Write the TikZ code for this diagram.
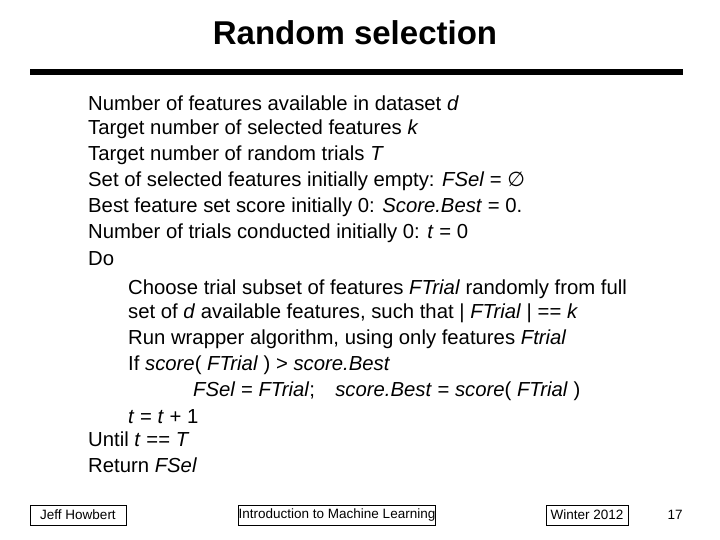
\documentclass[tikz,border=0pt]{standalone}
\usepackage{fontspec}
\setmainfont{Liberation Sans}
\newfontfamily\djvfont{DejaVu Sans}
\begin{document}
\begin{tikzpicture}[x=1pt,y=-1pt,
 ln/.style={anchor=west,inner sep=0pt,font=\fontsize{20.3}{22}\selectfont},
 ft/.style={draw,line width=0.6pt,inner sep=0pt,minimum height=20,font=\fontsize{13.5}{14}\selectfont}]
\useasboundingbox (0,0) rectangle (720,540);
\node[font=\bfseries\fontsize{33}{36}\selectfont] (title) at (355,33) {Random selection};
\draw[line width=6pt] (30,72) coordinate (l1) -- (683,72) coordinate (l2);
\node[ln] (a1) at (88,103) {Number of features available in dataset \textit{d}};
\node[ln] (a2) at (88,129) {Target number of selected features \textit{k}};
\node[ln] (a3) at (88,155) {Target number of random trials \textit{T}};
\node[ln] (a4) at (88,181) {Set of selected features initially empty: \textit{FSel} = {\djvfont ∅}};
\node[ln] (a5) at (88,207) {Best feature set score initially 0: \textit{Score.Best} = 0.};
\node[ln] (a6) at (88,233) {Number of trials conducted initially 0: \textit{t} = 0};
\node[ln] (a7) at (88,259) {Do};
\node[ln] (b1) at (128,289) {Choose trial subset of features \textit{FTrial} randomly from full};
\node[ln] (b2) at (128,313) {set of \textit{d} available features, such that | \textit{FTrial} | == \textit{k}};
\node[ln] (b3) at (128,339) {Run wrapper algorithm, using only features \textit{Ftrial}};
\node[ln] (b4) at (128,365) {If \textit{score}( \textit{FTrial} ) > \textit{score.Best}};
\node[ln] (c1) at (193,391) {\textit{FSel} = \textit{FTrial};\quad\textit{score.Best} = \textit{score}( \textit{FTrial} )};
\node[ln] (b5) at (128,417) {\textit{t} = \textit{t} + 1};
\node[ln] (a8) at (88,439) {Until \textit{t} == \textit{T}};
\node[ln] (a9) at (88,465) {Return \textit{FSel}};
\node[ft,minimum width=96] (f1) at (78,515) {Jeff Howbert\hspace{22pt}};
\node[ft,minimum width=186] (f2) at (337,515) {Introduction to Machine Learning};
\node[ft,minimum width=82] (f3) at (587,515) {Winter 2012};
\node[font=\fontsize{13.5}{14}\selectfont] (f4) at (675,515) {17};
\end{tikzpicture}
\end{document}
